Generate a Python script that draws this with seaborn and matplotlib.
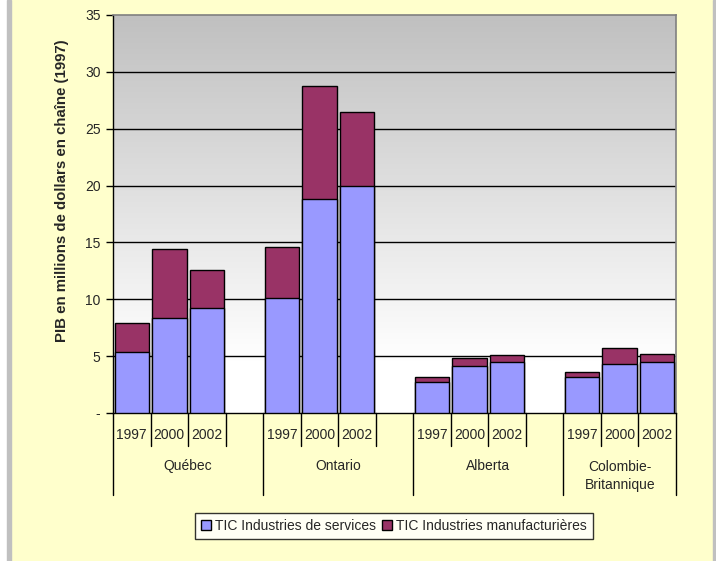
import numpy as np
import pandas as pd
import matplotlib
matplotlib.use('Agg')
import matplotlib.pyplot as plt
import matplotlib.transforms as mtransforms
from matplotlib.patches import Patch, Rectangle
import seaborn as sns

# Données (PIB en millions de dollars enchaînés 1997)
provinces = ['Québec', 'Ontario', 'Alberta', 'Colombie-\nBritannique']
annees = ['1997', '2000', '2002']
services = [5.4, 8.35, 9.2,
            10.1, 18.8, 20.0,
            2.7, 4.1, 4.5,
            3.2, 4.3, 4.5]
totaux = [7.9, 14.4, 12.6,
          14.6, 28.8, 26.5,
          3.2, 4.85, 5.1,
          3.6, 5.7, 5.2]
y_ticks = [0, 5, 10, 15, 20, 25, 30, 35]
y_labels = ['-', '5', '10', '15', '20', '25', '30', '35']

col_serv = '#9999FF'
col_manu = '#993366'
fond = '#FFFFCC'

# table longue + ordre avec cases vides entre les provinces
rows = []
ordre = []
for i, p in enumerate(provinces):
    for j, a in enumerate(annees):
        k = i * 3 + j
        cle = p + ' ' + a
        rows.append({'cat': cle, 'services': services[k], 'total': totaux[k]})
        ordre.append(cle)
    if i < len(provinces) - 1:
        ordre.append('vide%d' % i)
df = pd.DataFrame(rows)

sns.set_style('white')
plt.rcParams['font.family'] = ['Liberation Sans', 'DejaVu Sans']

W, H = 716, 561
fig = plt.figure(figsize=(W / 100, H / 100), dpi=100)
fig.patch.set_facecolor(fond)
# bordures de la zone du graphique
fig.patches.append(Rectangle((0, 0), 7 / W, 1, transform=fig.transFigure,
                             color='white', zorder=-1))
fig.patches.append(Rectangle((7 / W, 0), 4 / W, 1, transform=fig.transFigure,
                             color='#C0C0C0', zorder=-1))
fig.patches.append(Rectangle((713 / W, 0), 3 / W, 1, transform=fig.transFigure,
                             color='#C0C0C0', zorder=-1))

x0, x1, y0, y1 = 113, 676, 15, 413
ax = fig.add_axes([x0 / W, 1 - y1 / H, (x1 - x0) / W, (y1 - y0) / H])

# dégradé gris -> blanc du fond de la zone de tracé
t = np.linspace(0, 1, 256)
g = np.where(t < 0.13, 1.0, 1.0 - (t - 0.13) / 0.87 * (1 - 192 / 255))
img = np.repeat(g[::-1, None], 2, axis=1)
ax.imshow(np.dstack([img, img, img]), extent=[0, 1, 0, 1], transform=ax.transAxes,
          aspect='auto', zorder=0, interpolation='bilinear')

for v in y_ticks[1:-1]:
    ax.axhline(v, color='black', lw=1, zorder=1)

sns.barplot(data=df, x='cat', y='total', order=ordre, color=col_manu, saturation=1,
            width=0.92, edgecolor='black', linewidth=1, errorbar=None, ax=ax, zorder=2)
sns.barplot(data=df, x='cat', y='services', order=ordre, color=col_serv, saturation=1,
            width=0.92, edgecolor='black', linewidth=1, errorbar=None, ax=ax, zorder=3)

ax.set_xlim(-0.5, len(ordre) - 0.5)
ax.set_ylim(0, 35)
ax.set_yticks(y_ticks)
ax.set_yticklabels(y_labels, fontsize=10)
ax.set_xticks([])
ax.set_xlabel('')
ax.set_ylabel('')
ax.tick_params(axis='y', direction='out', length=5, width=1, color='black', pad=4, left=True)
for s in ['left', 'bottom']:
    ax.spines[s].set_color('black')
    ax.spines[s].set_linewidth(1)
for s in ['top', 'right']:
    ax.spines[s].set_color('#808080')
    ax.spines[s].set_linewidth(1.2)

# axe des catégories à deux niveaux
tr = mtransforms.blended_transform_factory(ax.transData, ax.transAxes)
court, long_ = -0.082, -0.206
for i in range(len(provinces)):
    debut = i * 4
    ax.plot([debut - 0.5, debut - 0.5], [0, long_], color='black', lw=1,
            transform=tr, clip_on=False)
    for j, a in enumerate(annees):
        xc = debut + j
        ax.text(xc, -0.055, a, transform=tr, ha='center', va='center', fontsize=10)
        if j < 2 or i < len(provinces) - 1:
            ax.plot([xc + 0.5, xc + 0.5], [0, court], color='black', lw=1,
                    transform=tr, clip_on=False)
    centre = debut + (1.5 if i < len(provinces) - 1 else 1)
    ax.text(centre, -0.133 if '\n' not in provinces[i] else -0.158, provinces[i],
            transform=tr, ha='center', va='center', fontsize=10, linespacing=1.3)
ax.plot([len(ordre) - 0.5] * 2, [0, long_], color='black', lw=1, transform=tr, clip_on=False)

fig.text(62 / W, 1 - 191 / H, 'PIB en millions de dollars en chaîne (1997)',
         rotation=90, ha='center', va='center', fontsize=10.8, fontweight='bold')

poignees = [Patch(facecolor=col_serv, edgecolor='black', lw=1),
            Patch(facecolor=col_manu, edgecolor='black', lw=1)]
leg = fig.legend(poignees, ['TIC Industries de services', 'TIC Industries manufacturières'],
                 loc='center', bbox_to_anchor=(394 / W, 1 - 526 / H), ncol=2, fontsize=10,
                 frameon=True, fancybox=False, handlelength=0.7, handleheight=0.7,
                 handletextpad=0.3, columnspacing=0.4, borderpad=0.45)
leg.get_frame().set_edgecolor('black')
leg.get_frame().set_linewidth(1)
leg.get_frame().set_facecolor('white')

fig.savefig('out.png', dpi=100, facecolor=fond)
